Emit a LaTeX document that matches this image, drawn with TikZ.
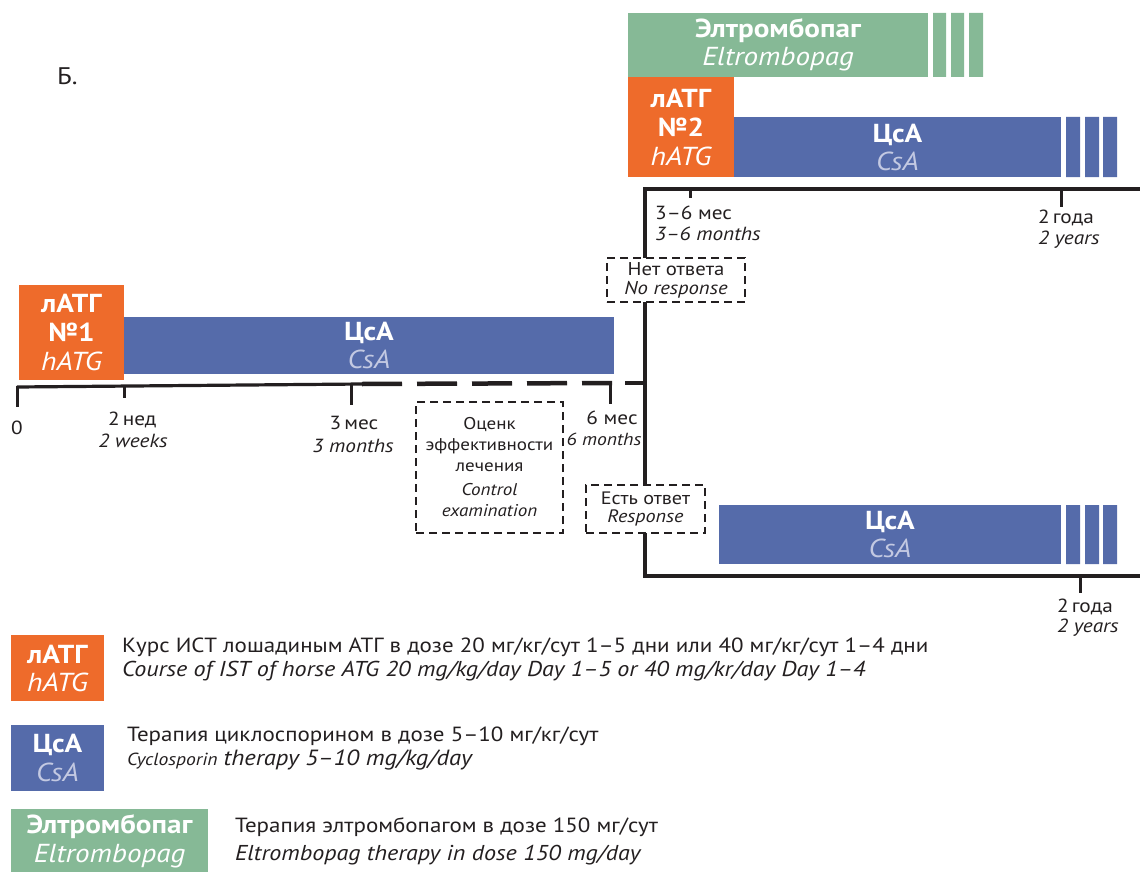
\documentclass[tikz,border=0pt]{standalone}
\usepackage{fontspec}
\setmainfont{PT Sans}[FakeStretch=1.12]
\definecolor{atg}{HTML}{EE6B2B}
\definecolor{csa}{HTML}{556BAA}
\definecolor{eltr}{HTML}{86B996}
\definecolor{csalight}{HTML}{C3C9E2}
\definecolor{ink}{HTML}{231F20}
\newcommand{\fs}[2]{\fontsize{#1}{#2}\selectfont}
\begin{document}
\begin{tikzpicture}[x=1pt,y=-1pt,
  bar/.style={inner sep=0pt, outer sep=0pt, anchor=north west, text=white,
    align=center, font=\fs{26}{28}},
  tl/.style={draw=ink, line width=3.2pt},
  tick/.style={draw=ink, line width=3pt},
  dbox/.style={draw=ink, line width=2pt, dash pattern=on 8pt off 5pt,
    inner sep=0pt, outer sep=0pt, text=ink, align=center, font=\fs{17}{20}},
  lbl/.style={text=ink, inner sep=0pt, font=\fs{19}{22}, align=left},
  legtxt/.style={text=ink, inner sep=0pt, anchor=west, align=left, font=\fs{20.5}{24}},
]
\useasboundingbox (0,0) rectangle (1140,872);

% panel letter
\node[text=ink, inner sep=0pt, font=\fs{24}{26}, anchor=west] (letter) at (57,76) {Б.};

% ---------- first course ----------
\node[bar, fill=atg, minimum width=105, minimum height=95, font=\fs{26}{29}] (atg1) at (19,285)
  {\bfseries лАТГ\\\bfseries №1\\\itshape hATG};
\node[bar, fill=csa, minimum width=490, minimum height=57] (csa1) at (124,317)
  {\bfseries ЦсА\\\color{csalight}\itshape CsA};

% first timeline
\coordinate (t0) at (17,387);
\coordinate (t3m) at (362,384);
\coordinate (d6m) at (612,383);
\coordinate (dEnd) at (625,383);
\coordinate (vx) at (645,383);
\draw[tl, line cap=butt] (t0) -- (t3m);
\draw[draw=ink, line width=4.5pt, dash pattern=on 40pt off 15pt] (t3m) -- (d6m);
\draw[tl] (dEnd) -- (vx);
\draw[tick] (17,386) -- (17,407);
\draw[tick] (124,385) -- (124,398);
\draw[tick] (351,384) -- (351,405);
\draw[tick] (610,383) -- (610,404);

\node[lbl, anchor=center] (l0) at (17,428) {0};
\node[lbl, anchor=west] (l2w) at (108,420) {2\,нед};
\node[lbl, anchor=center] (l2wen) at (133,441) {\itshape 2 weeks};
\node[lbl, anchor=center] (l3m) at (354,423) {3\,мес};
\node[lbl, anchor=center] (l3men) at (353,446) {\itshape 3 months};
\node[lbl, anchor=center] (l6m) at (612,418) {6 мес};
\node[lbl, anchor=center, font=\fs{17.5}{22}] (l6men) at (604,439) {\itshape 6 months};

% evaluation box
\node[dbox, minimum width=147, minimum height=131, anchor=north west] (ctrl) at (416,402)
  {Оценк\\[1pt]эффективности\\[1pt]лечения\\[4pt]\itshape Control\\[1pt]\itshape examination};

% response boxes
\node[dbox, minimum width=138, minimum height=44, anchor=north west, font=\fs{18.5}{19}] (noresp) at (607,258)
  {Нет ответа\\\itshape No response};
\node[dbox, minimum width=119, minimum height=48, anchor=north west, font=\fs{18}{18}] (resp) at (586,485)
  {Есть ответ\\\itshape Response};

% branches
\coordinate (upEnd) at (1142,189);
\coordinate (lowEnd) at (1142,576);
\draw[tl] (noresp.north -| vx) |- (upEnd);
\draw[tl] (noresp.south -| vx) -- (resp.north -| vx);
\draw[tl] (resp.south -| vx) |- (lowEnd);

% ---------- second course (no response) ----------
\node[bar, fill=eltr, minimum width=300, minimum height=64] (eltr) at (628,13)
  {\bfseries Элтромбопаг\\\itshape Eltrombopag};
\fill[eltr] (933,13) rectangle (946,77) (951,13) rectangle (964,77) (969,13) rectangle (983,77);
\node[bar, fill=atg, minimum width=106, minimum height=100, font=\fs{26}{29}] (atg2) at (628,77)
  {\bfseries лАТГ\\\bfseries №2\\\itshape hATG};
\node[bar, fill=csa, minimum width=327, minimum height=60] (csa2) at (734,117)
  {\bfseries ЦсА\\\color{csalight}\itshape CsA};
\fill[csa] (1066,117) rectangle (1080,177) (1085,117) rectangle (1099,177) (1103,117) rectangle (1117,177);

\draw[tick] (690,189) -- (690,198);
\draw[tick] (1061,189) -- (1061,207);
\node[lbl, anchor=west] (l36) at (655,213) {3–6 мес};
\node[lbl, anchor=west] (l36en) at (655,234) {\itshape 3–6 months};
\node[lbl, anchor=west] (l2y) at (1038,218) {2\,года};
\node[lbl, anchor=west] (l2yen) at (1038,240) {\itshape 2 years};

% ---------- continuation (response) ----------
\node[bar, fill=csa, minimum width=342, minimum height=59] (csa3) at (719,505)
  {\bfseries ЦсА\\\color{csalight}\itshape CsA};
\fill[csa] (1066,505) rectangle (1080,564) (1085,505) rectangle (1099,564) (1103,505) rectangle (1117,564);
\draw[tick] (1080,576) -- (1080,593);
\node[lbl, anchor=west] (l2yb) at (1057,607) {2\,года};
\node[lbl, anchor=west] (l2yben) at (1057,628) {\itshape 2 years};

% ---------- legend ----------
\node[bar, fill=atg, minimum width=93, minimum height=66, font=\fs{26}{28}] (katg) at (11,635)
  {\bfseries лАТГ\\\itshape hATG};
\node[legtxt] (tatg) at (122,659)
  {Курс ИСТ лошадиным АТГ в дозе 20 мг/кг/сут 1–5 дни или 40 мг/кг/сут 1–4 дни\\
   {\itshape\fs{21.5}{24}Course of IST of horse ATG 20 mg/kg/day Day 1–5 or 40 mg/kr/day Day 1–4}};

\node[bar, fill=csa, minimum width=93, minimum height=66, font=\fs{26}{29}] (kcsa) at (11,725)
  {\bfseries ЦсА\\\color{csalight}\itshape CsA};
\node[legtxt] (tcsa) at (127,749)
  {Терапия циклоспорином в дозе 5–10 мг/кг/сут\\
   {\itshape\fs{17.5}{24}Cyclosporin} {\itshape\fs{22}{24}therapy 5–10 mg/kg/day}};

\node[bar, fill=eltr, minimum width=197, minimum height=64, font=\fs{26}{29}] (keltr) at (11,809)
  {\bfseries Элтромбопаг\\\itshape Eltrombopag};
\node[legtxt, font=\fs{20.5}{28}] (teltr) at (235,841)
  {Терапия элтромбопагом в дозе 150 мг/сут\\
   {\itshape\fs{21.5}{28}Eltrombopag therapy in dose 150 mg/day}};
\end{tikzpicture}
\end{document}
